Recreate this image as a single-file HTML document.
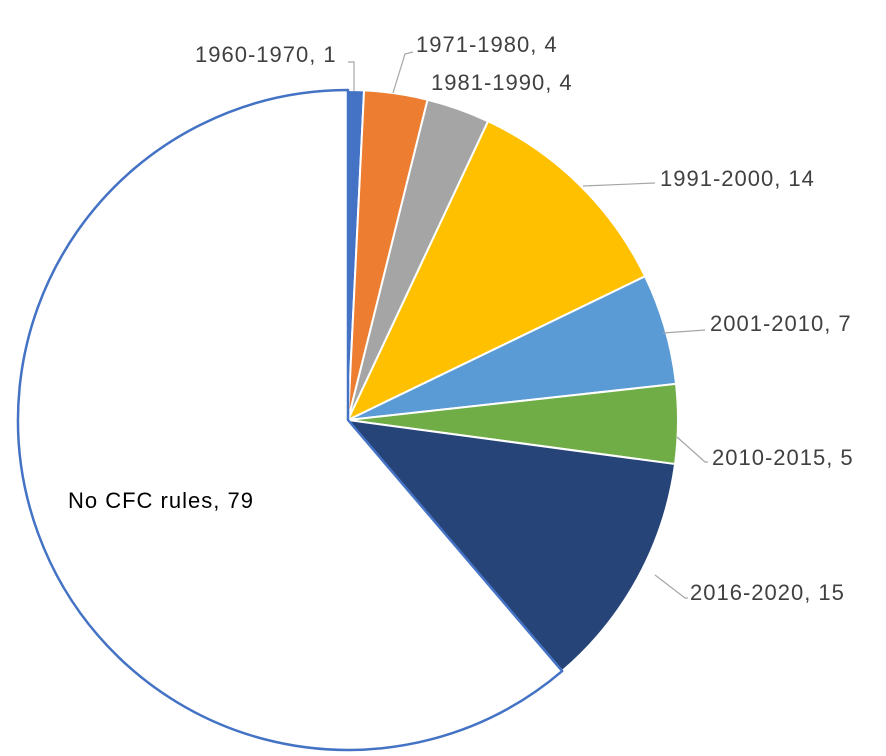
<!DOCTYPE html>
<html><head><meta charset="utf-8"><style>
html,body{margin:0;padding:0;background:#fff;}
svg{display:block;}
text{font-family:"Liberation Sans",sans-serif;font-size:22px;letter-spacing:1px;fill:#404040;}
</style></head><body>
<svg id="s" width="886" height="756" viewBox="0 0 886 756"></svg>
<script>
const cx=348,cy=420,r=330;
const data=[[1,"#4472C4"],[4,"#ED7D31"],[4,"#A5A5A5"],[14,"#FFC000"],[7,"#5B9BD5"],[5,"#70AD47"],[15,"#264478"],[79,"#FFFFFF"]];
const tot=129;let a=0,h="";
function pt(t){return [cx+r*Math.sin(t),cy-r*Math.cos(t)];}
data.forEach((d,i)=>{
 const a0=a/tot*2*Math.PI;a+=d[0];const a1=a/tot*2*Math.PI;
 const p0=pt(a0),p1=pt(a1),large=(a1-a0)>Math.PI?1:0;
 const stroke=i==7?"#4472C4":"#fff";const sw=i==7?2.5:2;
 h+=`<path d="M${cx},${cy} L${p0[0].toFixed(2)},${p0[1].toFixed(2)} A${r},${r} 0 ${large} 1 ${p1[0].toFixed(2)},${p1[1].toFixed(2)} Z" fill="${d[1]}" stroke="${stroke}" stroke-width="${sw}" stroke-linejoin="round"/>`;
});
const L='stroke="#A6A6A6" stroke-width="1.2" fill="none"';
h+=`<polyline points="354,91 354,62 348,62" ${L}/>`;
h+=`<polyline points="393,93 405,54 413,52" ${L}/>`;
h+=`<polyline points="583,186 655,183" ${L}/>`;
h+=`<polyline points="663,333 705,330" ${L}/>`;
h+=`<polyline points="677,437 705,462 708,462" ${L}/>`;
h+=`<polyline points="655,575 685,598 688,598" ${L}/>`;
h+=`<text x="195" y="62">1960-1970, 1</text>`;
h+=`<text x="416" y="52">1971-1980, 4</text>`;
h+=`<text x="431" y="90">1981-1990, 4</text>`;
h+=`<text x="660" y="186">1991-2000, 14</text>`;
h+=`<text x="710" y="331">2001-2010, 7</text>`;
h+=`<text x="712" y="465">2010-2015, 5</text>`;
h+=`<text x="690" y="600">2016-2020, 15</text>`;
h+=`<text x="68" y="508" style="fill:#000">No CFC rules, 79</text>`;
document.getElementById("s").innerHTML=h;
</script>
</body></html>
